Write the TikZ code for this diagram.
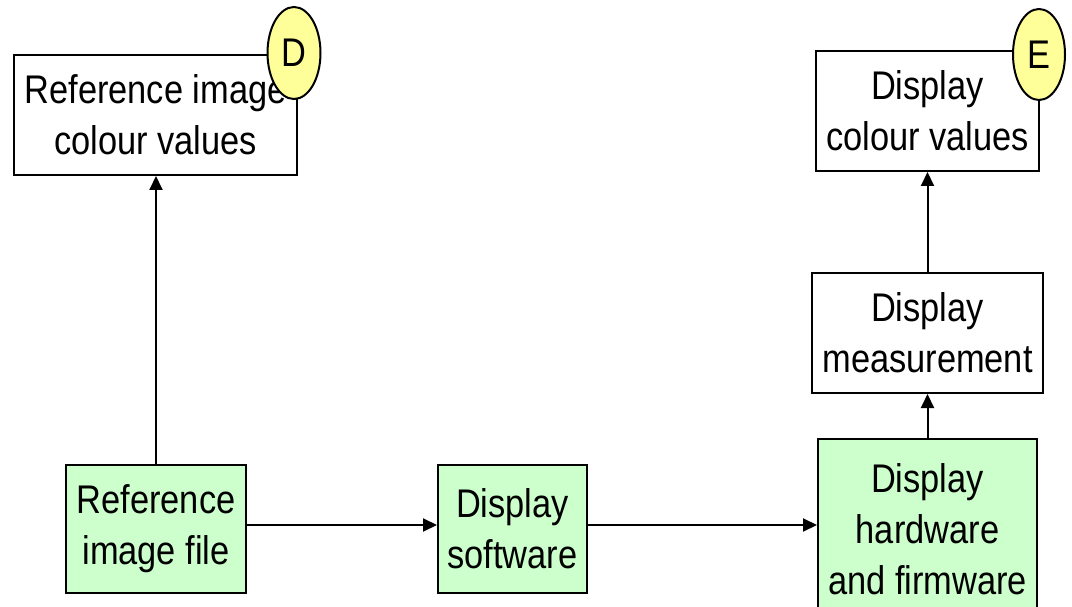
\documentclass[tikz,border=0pt]{standalone}
\usepackage{fontspec}
\setmainfont{Liberation Sans}[FakeStretch=0.86]
\usetikzlibrary{arrows.meta,shapes.geometric}
\definecolor{boxgreen}{HTML}{CCFFCC}
\definecolor{ovalyellow}{HTML}{FFFF99}
\begin{document}
\begin{tikzpicture}[x=1pt,y=-1pt,
  every node/.style={font=\fontsize{40}{51}\selectfont, align=center, inner sep=0pt},
  whitebox/.style={draw=black, line width=2pt, fill=white, rectangle},
  greenbox/.style={draw=black, line width=2pt, fill=boxgreen, rectangle},
  tag/.style={draw=black, line width=2pt, fill=ovalyellow, ellipse},
  conn/.style={line width=2pt, -{Triangle[length=14pt,width=13pt]}}]
\useasboundingbox (0,0) rectangle (1072,607);
\node[whitebox, minimum width=283pt, minimum height=120pt] (rv) at (155.5,115) {Reference image\\colour values};
\node[whitebox, minimum width=223pt, minimum height=120pt] (dv) at (927.5,111) {Display\\colour values};
\node[whitebox, minimum width=231pt, minimum height=120pt] (dm) at (927.5,333) {Display\\measurement};
\node[greenbox, minimum width=219pt, minimum height=180pt] (hw) at (927.5,529) {Display\\hardware\\and firmware};
\node[greenbox, minimum width=180pt, minimum height=128pt] (rf) at (156,529) {Reference\\image file};
\node[greenbox, minimum width=149pt, minimum height=128pt] (ds) at (512.5,529) {Display\\software};
\node[tag, minimum width=53pt, minimum height=92pt] (d) at (294,53) {D};
\node[tag, minimum width=52pt, minimum height=91pt] (e) at (1039,54.5) {E};
\draw[conn] ([yshift=4pt]rf.east) -- ([yshift=4pt]ds.west);
\draw[conn] ([yshift=4pt]ds.east) -- ([yshift=4pt]hw.west);
\draw[conn] (rf.north) -- (rf.north |- rv.south);
\draw[conn] (hw) -- (dm);
\draw[conn] (dm) -- (dv);
\end{tikzpicture}
\end{document}
